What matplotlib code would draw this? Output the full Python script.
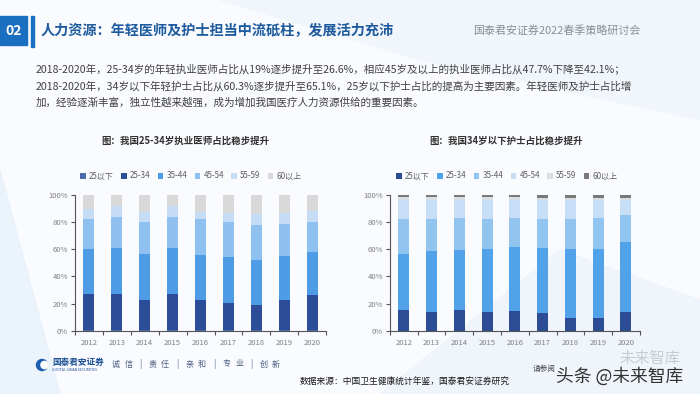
import numpy as np
import matplotlib.pyplot as plt
from matplotlib.patches import Rectangle, Circle, Polygon

plt.rcParams['font.family'] = ['Noto Sans CJK SC', 'DejaVu Sans']

# ---- data (percent shares by age group) ----
years = ['2012', '2013', '2014', '2015', '2016', '2017', '2018', '2019', '2020']
age_groups = ['25以下', '25-34', '35-44', '45-54', '55-59', '60以上']

doc_u25 = [0.3, 0.3, 0.3, 0.3, 0.3, 0.3, 0.3, 0.3, 0.3]
doc_25_34 = [26.7, 26.7, 22.1, 26.7, 22.1, 20.3, 18.7, 22.6, 26.3]
doc_35_44 = [33.2, 34.2, 34.1, 34.2, 33.1, 33.5, 33.3, 32.1, 31.3]
doc_45_54 = [21.9, 22.3, 23.8, 22.3, 26.6, 26.2, 25.8, 23.9, 22.0]
doc_55_59 = [7.6, 8.4, 7.4, 8.4, 5.6, 6.7, 8.1, 8.1, 8.1]
doc_60p = [10.3, 8.1, 12.3, 8.1, 12.3, 13.0, 13.8, 13.0, 12.0]

nur_u25 = [15.5, 13.8, 15.5, 13.8, 14.3, 13.3, 9.6, 9.6, 13.8]
nur_25_34 = [41.3, 44.7, 44.2, 46.4, 47.6, 47.6, 50.7, 50.6, 51.3]
nur_35_44 = [25.3, 23.6, 23.3, 22.4, 21.1, 21.4, 22.0, 22.6, 19.9]
nur_45_54 = [14.4, 14.4, 13.5, 13.9, 13.5, 13.7, 13.7, 13.2, 11.0]
nur_55_59 = [2.0, 2.0, 2.0, 2.0, 2.0, 2.0, 2.0, 2.0, 2.0]
nur_60p = [1.5, 1.5, 1.5, 1.5, 1.5, 2.0, 2.0, 2.0, 2.0]

doc_colors = ['#4a6aa8', '#2d4d99', '#4e9ce6', '#8ec0f0', '#c4dcf5', '#d9d9d9']
nur_colors = ['#2c4c96', '#52a2ea', '#92c4f0', '#c6dff6', '#d8dee6', '#7a7a7a']

motto = ['诚', '信', '|', '责', '任', '|', '亲', '和', '|', '专', '业', '|', '创', '新']

fig = plt.figure(figsize=(7, 3.94), dpi=100)
fig.patch.set_facecolor('#f9fbfe')

# soft background shapes
bg = fig.add_axes([0, 0, 1, 1], zorder=-5)
bg.set_xlim(0, 700)
bg.set_ylim(394, 0)
bg.axis('off')
bg.add_patch(Polygon([[0, 170], [60, 394], [0, 394]], color='#e8f1fb', alpha=0.8))
bg.add_patch(Polygon([[220, 0], [700, 0], [700, 120], [420, 60]], color='#f1f6fc', alpha=0.9))
bg.add_patch(Polygon([[380, 394], [560, 250], [700, 300], [700, 394]], color='#eef4fb', alpha=0.8))

# header
bg.add_patch(Rectangle((0, 16), 27, 29, color='#1a6fc0'))
bg.text(13.5, 31, '02', color='white', fontsize=10, fontweight='bold', ha='center', va='center')
bg.add_patch(Rectangle((31, 16), 3, 31, color='#1a6fc0'))
bg.text(41, 31, '人力资源：年轻医师及护士担当中流砥柱，发展活力充沛', color='#1d5a9e',
        fontsize=10.2, fontweight='bold', va='center')
bg.text(473, 31, '国泰君安证券2022春季策略研讨会', color='#8a8f96', fontsize=7.9, va='center')

# body text
body = [
    '2018-2020年，25-34岁的年轻执业医师占比从19%逐步提升至26.6%，相应45岁及以上的执业医师占比从47.7%下降至42.1%；',
    '2018-2020年，34岁以下年轻护士占比从60.3%逐步提升至65.1%，25岁以下护士占比的提高为主要因素。年轻医师及护士占比增',
    '加，经验逐渐丰富，独立性越来越强，成为增加我国医疗人力资源供给的重要因素。',
]
for i, line in enumerate(body):
    bg.text(36, 70 + i * 16.5, line, color='#404040', fontsize=7.6, va='center')

# chart titles
bg.text(185, 141, '图：我国25-34岁执业医师占比稳步提升', color='#303030', fontsize=6.8,
        fontweight='bold', ha='center', va='center')
bg.text(506, 141, '图：我国34岁以下护士占比稳步提升', color='#303030', fontsize=6.8,
        fontweight='bold', ha='center', va='center')


def stacked(ax, series, colors):
    x = np.arange(len(years))
    bottom = np.zeros(len(years))
    handles = []
    for vals, c, lab in zip(series, colors, age_groups):
        h = ax.bar(x, vals, 0.4, bottom=bottom, color=c, label=lab, zorder=2)
        bottom += np.array(vals)
        handles.append(h)
    ax.set_xlim(-0.5, len(years) - 0.5)
    ax.set_ylim(0, 100)
    ax.set_facecolor('none')
    for s in ['top', 'right']:
        ax.spines[s].set_visible(False)
    for s in ['left', 'bottom']:
        ax.spines[s].set_color('#555555')
        ax.spines[s].set_linewidth(0.8)
    ax.set_yticks([0, 20, 40, 60, 80, 100])
    ax.set_yticklabels(['0%', '20%', '40%', '60%', '80%', '100%'])
    ax.set_xticks(x)
    ax.set_xticklabels(years)
    ax.set_xticks(np.arange(-0.5, len(years)), minor=True)
    ax.tick_params(axis='x', which='major', length=0, pad=6, labelsize=5.5, labelcolor='#808080')
    ax.tick_params(axis='x', which='minor', length=3, color='#555555', width=0.8)
    ax.tick_params(axis='y', length=3, color='#555555', width=0.8, labelsize=5.5,
                   labelcolor='#808080', pad=2)
    return handles


ax1 = fig.add_axes([0.107, 0.1607, 0.359, 0.3444])
h1 = stacked(ax1, [doc_u25, doc_25_34, doc_35_44, doc_45_54, doc_55_59, doc_60p], doc_colors)
ax2 = fig.add_axes([0.557, 0.1607, 0.357, 0.3444])
h2 = stacked(ax2, [nur_u25, nur_25_34, nur_35_44, nur_45_54, nur_55_59, nur_60p], nur_colors)

for ax, hs, cx in [(ax1, h1, 191 / 700), (ax2, h2, 507 / 700)]:
    ax.legend(hs, age_groups, ncol=6, frameon=False, fontsize=5.8, handlelength=0.7,
              handleheight=0.7, handletextpad=0.4, columnspacing=0.9, labelcolor='#606060',
              loc='center', bbox_to_anchor=(cx, 1 - 176 / 394), bbox_transform=fig.transFigure)

# footer
bg.add_patch(Circle((42, 365), 5.5, color='#1b5fae'))
bg.add_patch(Circle((44.5, 365), 3.6, color='white'))
bg.text(52, 362, '国泰君安证券', color='#1b4f96', fontsize=6.2, fontweight='bold', va='center')
bg.text(52, 370, 'GUOTAI JUNAN SECURITIES', color='#1b4f96', fontsize=2.5, va='center')
for i, ch in enumerate(motto):
    bg.text(116 + i * 12.3, 364, ch, color='#4a5f80', fontsize=5.8, ha='center', va='center')
bg.text(405, 382, '数据来源：中国卫生健康统计年鉴，国泰君安证券研究', color='#1a1a1a',
        fontsize=6.3, fontweight='medium', ha='center', va='center')
bg.text(533, 369, '请参阅', color='#444444', fontsize=5.5, va='center')
bg.text(650, 358, '未来智库', color='#c8cdd3', fontsize=11, ha='center', va='center')
bg.text(556, 376, '头条 @未来智库', color='#333333', fontsize=12.8, va='center')

fig.savefig('out.png', dpi=100, facecolor=fig.get_facecolor())
